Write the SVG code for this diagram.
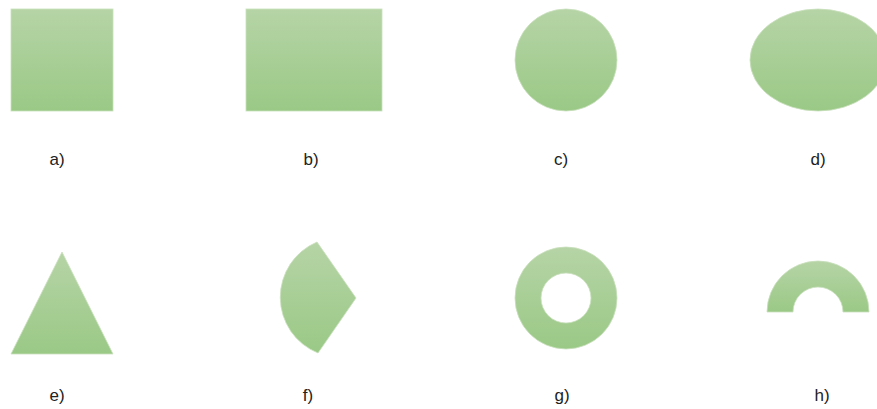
<svg xmlns="http://www.w3.org/2000/svg" width="877" height="409" viewBox="0 0 877 409">
<defs>
<linearGradient id="g" x1="0" y1="0" x2="0" y2="1">
<stop offset="0" stop-color="#b6d4a6"/>
<stop offset="1" stop-color="#9ac986"/>
</linearGradient>
<style>
.s{fill:url(#g);stroke:#c9e0bc;stroke-width:0.8}
.t{font-family:"Liberation Sans",Arial,sans-serif;font-size:17px;fill:#222;text-anchor:middle}
</style>
</defs>
<rect width="877" height="409" fill="#fff"/>
<g id="a"><rect class="s" x="11" y="9" width="102" height="102"/><text class="t" x="57" y="165">a)</text></g>
<g id="b"><rect class="s" x="246" y="9" width="136" height="102"/><text class="t" x="311" y="165">b)</text></g>
<g id="c"><circle class="s" cx="566" cy="60" r="51"/><text class="t" x="561" y="165">c)</text></g>
<g id="d"><ellipse class="s" cx="818" cy="60" rx="68" ry="51"/><text class="t" x="818" y="165">d)</text></g>
<g id="e"><polygon class="s" points="62,252 113,354 11,354"/><text class="t" x="57" y="401">e)</text></g>
<g id="f"><path class="s" d="M317,242 L356,298 L318,353 A60,60 0 0 1 317,242 Z"/><text class="t" x="308" y="401">f)</text></g>
<g id="g2"><path class="s" fill-rule="evenodd" d="M617,298 A51,51 0 1 0 515,298 A51,51 0 1 0 617,298 Z M591,298 A25,25 0 1 1 541,298 A25,25 0 1 1 591,298 Z"/><text class="t" x="562" y="401">g)</text></g>
<g id="h"><path class="s" d="M767,312 A51,51 0 0 1 869,312 L843,312 A25,25 0 0 0 793,312 Z"/><text class="t" x="822" y="401">h)</text></g>
<g id="connectors"></g>
</svg>
